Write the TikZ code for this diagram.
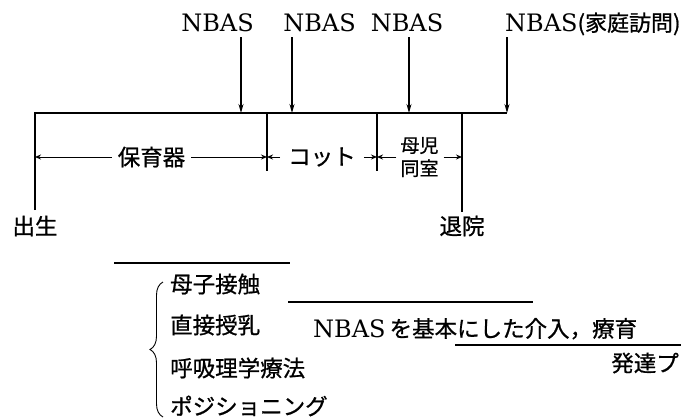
\documentclass[tikz,border=0pt]{standalone}
\usepackage{fontspec}
\setmainfont{DejaVu Serif}
\newfontfamily\jp[FakeBold=0.8]{Noto Sans CJK JP}
\usetikzlibrary{arrows.meta,decorations.pathreplacing}
\begin{document}
\begin{tikzpicture}[x=1pt,y=-1pt,
  lat/.style={inner sep=0pt, font=\fontsize{24}{24}\selectfont},
  jpt/.style={inner sep=0pt, font=\jp\fontsize{22.5}{22.5}\selectfont},
  jps/.style={inner sep=0pt, font=\jp\fontsize{19}{23}\selectfont, align=center},
  mainline/.style={line width=1.5pt},
  downarr/.style={line width=1.2pt, -{Stealth[length=9pt,width=5pt]}},
  dimarr/.style={line width=1pt, -{Stealth[length=6pt,width=5pt]}},
  rulel/.style={line width=1.5pt},
  bracel/.style={line width=0.9pt, decorate, decoration={brace, amplitude=13pt}}]
\useasboundingbox (0,0) rectangle (681,418);

% top labels
\node[lat,anchor=base] (nb1) at (217.5,31) {NBAS};
\node[lat,anchor=base] (nb2) at (319.5,31) {NBAS};
\node[lat,anchor=base] (nb3) at (407,31) {NBAS};
\node[lat,anchor=base west] (nb4) at (505,31) {NBAS{\jp\fontsize{22}{22}\selectfont (家庭訪問)}};

% coordinates on main line
\coordinate (v0t) at (35,113);
\coordinate (v0b) at (35,210);
\coordinate (v1t) at (267,113);
\coordinate (v1b) at (267,171);
\coordinate (v2t) at (377,113);
\coordinate (v2b) at (377,171);
\coordinate (v3t) at (462,113);
\coordinate (v3b) at (462,212);
\coordinate (t1) at (241,113);
\coordinate (t2) at (292,113);
\coordinate (t3) at (409,113);
\coordinate (t4) at (507,113);
\coordinate (s1) at (241,37);
\coordinate (s2) at (292,37);
\coordinate (s3) at (409,37);
\coordinate (s4) at (507,37);

% main line and verticals
\draw[mainline] (v0b) -- (v0t) -- (t4);
\draw[mainline] (v1t) -- (v1b);
\draw[mainline] (v2t) -- (v2b);
\draw[mainline] (v3t) -- (v3b);

% NBAS arrows
\draw[downarr] (s1) -- (t1);
\draw[downarr] (s2) -- (t2);
\draw[downarr] (s3) -- (t3);
\draw[downarr] (s4) -- (t4);

% period labels
\node[jpt] (hk) at (151.5,157) {保育器};
\node[jpt] (ct) at (322,157) {コット};
\node[jps] (bj) at (419.5,157) {母児\\同室};

\draw[dimarr] ([xshift=-6pt]hk.west) -- (hk.west -| v0t);
\draw[dimarr] ([xshift=6pt]hk.east) -- (hk.east -| v1t);
\draw[dimarr] ([xshift=-8pt]ct.west) -- (ct.west -| v1t);
\draw[dimarr] ([xshift=8pt]ct.east) -- (ct.east -| v2t);
\draw[dimarr] ([xshift=-4pt]bj.west) -- (bj.west -| v2t);
\draw[dimarr] ([xshift=5pt]bj.east) -- (bj.east -| v3t);

\node[jpt] (birth) at (35,226) {出生};
\node[jpt] (disch) at (462,226) {退院};

% lower part
\coordinate (r1a) at (114,263);
\coordinate (r1b) at (290,263);
\coordinate (r2a) at (288,302);
\coordinate (r2b) at (533,302);
\coordinate (r3a) at (455,345);
\coordinate (r3b) at (681,345);
\draw[rulel] (r1a) -- (r1b);
\draw[rulel] (r2a) -- (r2b);
\draw[rulel] (r3a) -- (r3b);

\coordinate (bb) at (163,417);
\coordinate (bt) at (163,282);
\draw[bracel] (bb) -- (bt);

\node[jpt,anchor=west] (m1) at (170,284) {母子接触};
\node[jpt,anchor=west] (m2) at (170,325) {直接授乳};
\node[jpt,anchor=west] (m3) at (170,368) {呼吸理学療法};
\node[jpt,anchor=west] (m4) at (170,406) {ポジショニング};

\node[lat,anchor=base west] (nbi) at (313,337) {NBAS\hspace{4pt}{\jp\fontsize{22.5}{22.5}\selectfont を基本にした介入，療育}};
\node[jpt,anchor=east] (hat) at (679,363) {発達プ};

\end{tikzpicture}
\end{document}
